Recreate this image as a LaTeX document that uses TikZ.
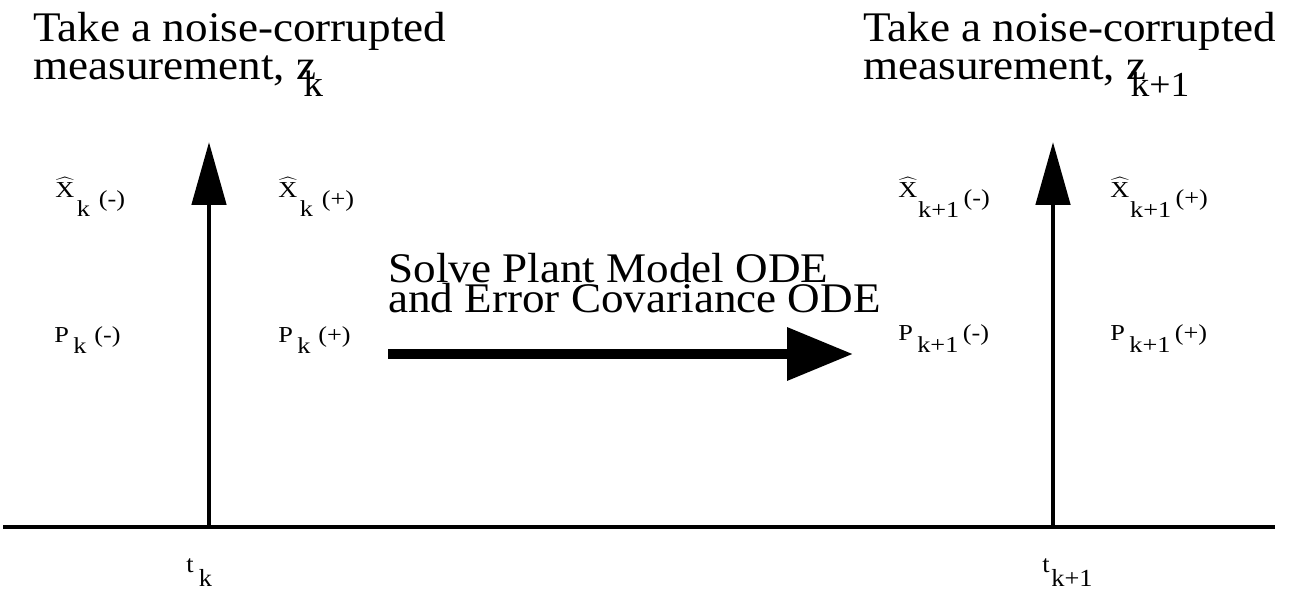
\documentclass[tikz,border=0pt]{standalone}
\usepackage{fontspec}
\setmainfont[FakeStretch=1.07]{Liberation Serif}
\newfontfamily\lblfont[FakeStretch=1.15]{Liberation Serif}
\usetikzlibrary{arrows.meta,positioning}

\newcommand{\xhat}{$\widehat{\mbox{X}}$}

\begin{document}
\begin{tikzpicture}[x=0.02cm,y=-0.02cm,
  bigtext/.style={anchor=north west,inner sep=0pt,align=left,font=\fontsize{24}{21.5}\selectfont},
  est/.style={anchor=base west,inner sep=0pt,font=\lblfont\fontsize{13}{15}\selectfont},
  timelbl/.style={anchor=base west,inner sep=0pt,font=\fontsize{14}{16}\selectfont},
  meas/.style={line width=2.8pt,-{Triangle[length=1.26cm,width=0.68cm]}},
  prop/.style={line width=5.7pt,-{Triangle[length=1.32cm,width=1.02cm]}}]
\useasboundingbox (0,0) rectangle (1291,591);

% Time axis and the two measurement instants
\coordinate (axL) at (3,527);
\coordinate (axR) at (1275,527);
\coordinate (tk) at (209,527);
\coordinate (tk1) at (1053,527);
\coordinate (zk) at (209,142);
\coordinate (zk1) at (1053,142);
\draw[line width=1.8pt] (axL) -- (axR);
\draw[meas] (tk) -- (zk);
\draw[meas] (tk1) -- (zk1);

% Measurement text
\node[bigtext] (meask) at (33,12) {Take a noise-corrupted\\measurement, z\kern-7.5pt\raisebox{-9.5pt}{\fontsize{21}{21}\selectfont k}};
\node[bigtext] (meask1) at (863,12) {Take a noise-corrupted\\measurement, z\kern-9pt\raisebox{-9.5pt}{\fontsize{20}{20}\selectfont k+1}};

% Estimates before and after the update at t_k
\node[est] (xkm) at (55,198) {\xhat\hspace{1.5pt}\raisebox{-10.5pt}{k}\hspace{5pt}\raisebox{-5pt}{(-)}};
\node[est] (xkp) at (278,198) {\xhat\hspace{1.5pt}\raisebox{-10.5pt}{k}\hspace{5pt}\raisebox{-5pt}{(+)}};
\node[est] (pkm) at (54,342) {P\hspace{2.5pt}\raisebox{-6.5pt}{k}\hspace{4.5pt}(-)};
\node[est] (pkp) at (278,342) {P\hspace{2.5pt}\raisebox{-6.5pt}{k}\hspace{4.5pt}(+)};

% Estimates before and after the update at t_k+1
\node[est] (xk1m) at (898,198) {\xhat\hspace{0.5pt}\raisebox{-11pt}{k+1}\hspace{2.5pt}\raisebox{-4.5pt}{(-)}};
\node[est] (xk1p) at (1110,198) {\xhat\hspace{0.5pt}\raisebox{-11pt}{k+1}\hspace{2.5pt}\raisebox{-4.5pt}{(+)}};
\node[est] (pk1m) at (898,340) {P\hspace{2.5pt}\raisebox{-7pt}{k+1}\hspace{2.5pt}(-)};
\node[est] (pk1p) at (1110,340) {P\hspace{2.5pt}\raisebox{-7pt}{k+1}\hspace{2.5pt}(+)};

% Propagation between measurements
\node[bigtext,font=\fontsize{24}{17}\selectfont] (ode) at (388,253) {Solve Plant Model ODE\\and Error Covariance ODE};
\coordinate (odeS) at (388,354);
\coordinate (odeE) at (853,354);
\draw[prop] (odeS) -- (odeE);

% Time labels
\node[timelbl] (lbltk) at (186,572) {t\hspace{3pt}\raisebox{-8.5pt}{k}};
\node[timelbl] (lbltk1) at (1042,572) {t\hspace{1pt}\raisebox{-8.5pt}{k+1}};
\end{tikzpicture}
\end{document}
